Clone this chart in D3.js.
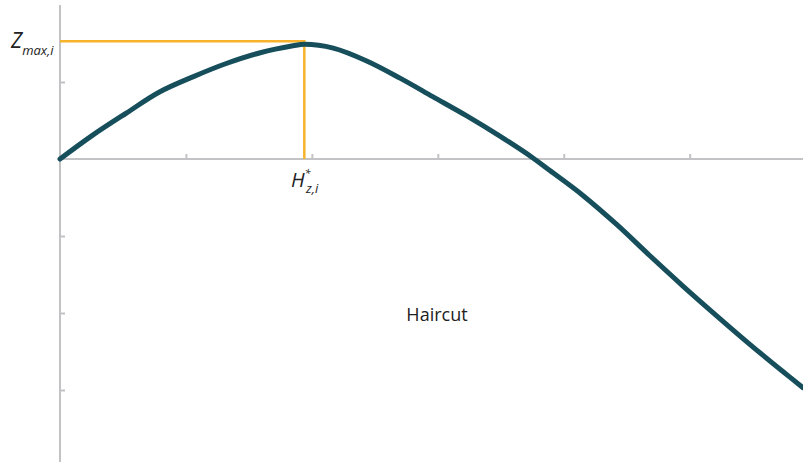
<!DOCTYPE html>
<html>
<head>
<meta charset="utf-8">
<script src="https://cdn.jsdelivr.net/npm/d3@7"></script>
<style>
  body { margin: 0; background: #fff; }
  svg { display: block; font-family: "Open Sans", Lato, sans-serif; }
</style>
</head>
<body>
<div id="chart"></div>
<script>
  // curve (arbitrary units)
  const xs = [0, 0.26, 0.53, 0.79, 1.06, 1.32, 1.59, 1.85, 1.94, 2.17, 2.44, 2.70, 2.96, 3.23, 3.49, 3.75, 3.89, 4.15, 4.42, 4.68, 4.94, 5.21, 5.48, 5.74, 5.90];
  const ys = [0, 0.31, 0.60, 0.87, 1.07, 1.24, 1.38, 1.47, 1.49, 1.44, 1.27, 1.05, 0.81, 0.56, 0.30, 0.02, -0.15, -0.47, -0.85, -1.25, -1.64, -2.03, -2.41, -2.76, -2.97];
  const xTicks = [1, 2, 3, 4, 5];
  const yTicks = [1, -1, -2, -3];
  const hStar = 1.94;
  const zMax = 1.53;

  const width = 803, height = 463;
  const svg = d3.select('#chart').append('svg')
    .attr('width', width)
    .attr('height', height);

  const x = d3.scaleLinear().domain([0, 5.9]).range([60, 803]);
  const y = d3.scaleLinear().domain([-4, 2]).range([467, 5]);

  const axisColor = '#c3c3c6';

  // y axis (ticks point inward)
  const yAxis = svg.append('g')
    .attr('transform', `translate(${x(0)},0)`)
    .call(d3.axisRight(y).tickValues(yTicks).tickSize(5).tickFormat(''));
  yAxis.select('.domain').attr('d', `M0,${y(2)}V462`);
  // x axis (ticks point up)
  const xAxis = svg.append('g')
    .attr('transform', `translate(0,${y(0)})`)
    .call(d3.axisTop(x).tickValues(xTicks).tickSize(5).tickFormat(''));
  xAxis.select('.domain').attr('d', `M${x(0)},0H${width}`);
  svg.selectAll('.domain').attr('stroke', axisColor).attr('stroke-width', 2);
  svg.selectAll('.tick line').attr('stroke', axisColor).attr('stroke-width', 2);

  // orange guide lines to the peak
  svg.append('path')
    .attr('d', `M${x(0)},${y(zMax)}H${x(hStar)}V${y(0)}`)
    .attr('fill', 'none')
    .attr('stroke', '#f7b32b')
    .attr('stroke-width', 2.5);

  const line = d3.line()
    .x((d, i) => x(xs[i]))
    .y(d => y(d))
    .curve(d3.curveCatmullRom.alpha(0.5));

  svg.append('path')
    .datum(ys)
    .attr('d', line)
    .attr('fill', 'none')
    .attr('stroke', '#164f5b')
    .attr('stroke-width', 5)
    .attr('stroke-linecap', 'round');

  // labels
  const zl = svg.append('text')
    .attr('x', 11).attr('y', 48)
    .attr('fill', '#222')
    .attr('font-style', 'italic');
  zl.append('tspan').attr('font-size', 21).text('Z');
  zl.append('tspan').attr('font-size', 13).attr('dy', 7).text('max,i');

  const hl = svg.append('text')
    .attr('x', 291).attr('y', 187)
    .attr('fill', '#222')
    .attr('font-style', 'italic');
  hl.append('tspan').attr('font-size', 20).text('H');
  hl.append('tspan').attr('font-size', 11).attr('dy', -10).text('*');
  hl.append('tspan').attr('font-size', 13).attr('x', 306).attr('dy', 16).text('z,i');

  svg.append('text')
    .attr('x', 437).attr('y', 321)
    .attr('text-anchor', 'middle')
    .attr('font-size', 18)
    .attr('fill', '#222')
    .text('Haircut');
</script>
</body>
</html>
